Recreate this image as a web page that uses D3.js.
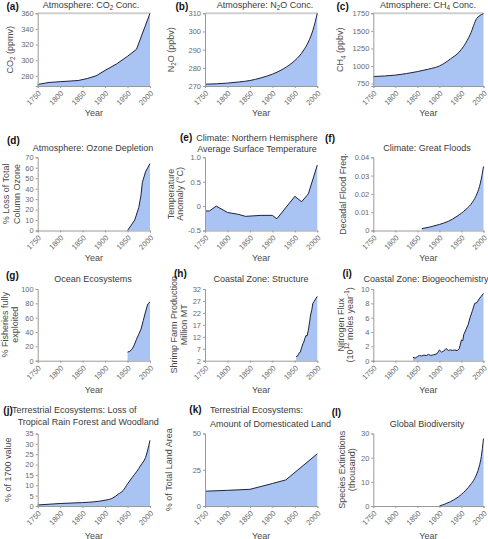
<!DOCTYPE html>
<html><head><meta charset="utf-8">
<script src="https://cdn.jsdelivr.net/npm/d3@7"></script>
<style>
html,body{margin:0;padding:0;background:#fff;}
svg text{font-family:"Liberation Sans",Arial,Helvetica,sans-serif;}
</style></head>
<body>
<svg id="chart" width="488" height="539"></svg>
<script>
// ---------- DATA ----------
const xTickYears = [1750, 1800, 1850, 1900, 1950, 2000];

const co2Years = [1750, 1775, 1800, 1840, 1860, 1880, 1900, 1925, 1950, 1970, 2000];
const co2Values = [269, 271.5, 272.5, 274, 276.5, 280, 287, 295, 305, 314, 360];
const co2Ticks = [280, 300, 320, 340, 360];

const n2oYears = [1750, 1775, 1800, 1825, 1850, 1875, 1900, 1925, 1950, 1960, 1970, 1980, 1990, 2000];
const n2oValues = [271, 271.2, 271.6, 272.2, 273, 274.5, 276.5, 279.5, 284, 286.5, 289.8, 294.2, 300.5, 310];
const n2oTicks = [270, 280, 290, 300, 310];

const ch4Years = [1750, 1800, 1850, 1875, 1900, 1925, 1945, 1955, 1970, 1985, 1990, 2000];
const ch4Values = [850, 870, 920, 955, 1000, 1100, 1200, 1280, 1450, 1680, 1710, 1745];
const ch4Ticks = [750, 1000, 1250, 1500, 1750];

const ozoneYears = [1950, 1966, 1975, 1980, 1983, 1990, 2000];
const ozoneValues = [0, 10, 22, 34, 46, 56, 64];
const ozoneTicks = [0, 10, 20, 30, 40, 50, 60, 70];

const tempYears = [1750, 1760, 1775, 1800, 1825, 1840, 1875, 1900, 1910, 1950, 1965, 1980, 2000];
const tempValues = [-0.10, -0.10, 0.0, -0.13, -0.17, -0.21, -0.19, -0.19, -0.26, 0.20, 0.09, 0.25, 0.84];
const tempTicks = [-0.5, 0, 0.5, 1.0];
const tempTickLabels = ["-0.5", "0", "0.5", "1.0"];

const floodYears = [1860, 1880, 1900, 1920, 1940, 1960, 1975, 1985, 1993, 2000];
const floodValues = [0.001, 0.002, 0.0033, 0.005, 0.0078, 0.0115, 0.0155, 0.02, 0.026, 0.035];
const floodTicks = [0, 0.01, 0.02, 0.03, 0.04];
const floodTickLabels = ["0", "0.01", "0.02", "0.03", "0.04"];

const fishYears = [1950, 1955, 1960, 1965, 1970, 1975, 1980, 1985, 1990, 1995, 2000];
const fishValues = [12, 13, 16, 22, 30, 37, 44, 56, 68, 79, 82];
const fishTicks = [0, 20, 40, 60, 80, 100];

const shrimpYears = [1953, 1955, 1958, 1960, 1962, 1965, 1968, 1970, 1972, 1975, 1977, 1980, 1983, 1985, 1988, 1990, 1993, 1996, 2000];
const shrimpValues = [3.7, 3.7, 4.6, 5.4, 5.5, 7.4, 9.1, 9.8, 11.2, 12.6, 12.3, 14.7, 18.3, 21.1, 23.5, 26, 26.8, 27.8, 28.9];
const shrimpTicks = [2, 7, 12, 17, 22, 27, 32];

const nitroYears = [1840, 1845, 1850, 1855, 1860, 1865, 1870, 1875, 1880, 1885, 1890, 1895, 1900, 1905, 1910, 1915, 1920, 1925, 1930, 1935, 1940, 1945, 1950, 1953, 1955, 1960, 1965, 1970, 1975, 1980, 1985, 1990, 1995, 2000];
const nitroValues = [0.47, 0.37, 0.56, 0.74, 0.65, 0.79, 0.70, 0.88, 0.74, 0.79, 0.88, 1.0, 1.5, 1.2, 1.35, 1.7, 1.44, 1.5, 1.44, 1.5, 1.4, 1.67, 2.9, 2.8, 3.6, 4.3, 5.0, 6.1, 7.0, 8.0, 8.1, 8.6, 9.0, 9.4];
const nitroTicks = [0, 2, 4, 6, 8, 10];

const forestYears = [1750, 1800, 1850, 1875, 1900, 1915, 1930, 1940, 1950, 1960, 1970, 1980, 1990, 2000];
const forestValues = [0.5, 1.2, 1.65, 2.0, 2.8, 3.6, 5.8, 7.4, 10.7, 13.7, 16.5, 19.8, 23.4, 31.7];
const forestTicks = [0, 5, 10, 15, 20, 25, 30, 35];

const landYears = [1750, 1800, 1850, 1900, 1930, 2000];
const landValues = [10.2, 10.8, 11.5, 15.5, 18, 36];
const landTicks = [0, 25, 50];

const speciesYears = [1900, 1925, 1950, 1970, 1980, 1990, 1995, 2000];
const speciesValues = [0, 1.8, 4.8, 8.7, 11.4, 16.2, 20.4, 27.9];
const speciesTicks = [0, 10, 20, 30];

// ---------- LAYOUT / STYLE ----------
const colLeft = [37.7, 205, 373.3];
const colRight = [150, 317.3, 483.5];
const rowTop = [13.3, 157.3, 289, 433.5];
const rowBot = [86, 230.5, 360.7, 506];
const fillColor = "#a9c4f3";
const lineColor = "#1c2140";
const axisColor = "#9a9a9a";
const tickTextColor = "#6a6a6a";
const labelColor = "#4a4a4a";

const svg = d3.select("#chart");

// helper: write text made of segments [text, "sub"|"sup"|undefined]
function segText(sel, segs, size) {
  segs.forEach(s => {
    const t = sel.append("tspan").text(s[0]);
    if (s[1] === "sub") { t.attr("font-size", size * 0.7).attr("dy", size * 0.25); }
    else if (s[1] === "sup") { t.attr("font-size", size * 0.7).attr("dy", -size * 0.4); }
    else if (s[1] === "reset-sub") { t.attr("dy", -size * 0.25); }
    else if (s[1] === "reset-sup") { t.attr("dy", size * 0.4); }
  });
}

const panels = [
  {id:"(a)", col:0,row:0, years:co2Years, vals:co2Values, dom:[267,360], ticks:co2Ticks, topBar:true, linear:true,
   letter:[6.5,9.5], titles:[{segs:[["Atmosphere: CO"],["2","sub"],[" Conc.","reset-sub"]], x:91, y:8, anchor:"middle"}],
   ylab:[{segs:[["CO"],["2","sub"],[" (ppmv)","reset-sub"]], x:9.7}]},
  {id:"(b)", col:1,row:0, years:n2oYears, vals:n2oValues, dom:[270,310], ticks:n2oTicks, topBar:true,
   letter:[175.5,9.5], titles:[{segs:[["Atmosphere: N"],["2","sub"],["O Conc.","reset-sub"]], x:265, y:8, anchor:"middle"}],
   ylab:[{segs:[["N"],["2","sub"],["O (ppbv)","reset-sub"]], x:170.7}]},
  {id:"(c)", col:2,row:0, years:ch4Years, vals:ch4Values, dom:[715,1750], ticks:ch4Ticks, topBar:true,
   letter:[336.5,9.5], titles:[{segs:[["Atmosphere: CH"],["4","sub"],[" Conc.","reset-sub"]], x:428, y:8, anchor:"middle"}],
   ylab:[{segs:[["CH"],["4","sub"],[" (ppbv)","reset-sub"]], x:340.3}]},
  {id:"(d)", col:0,row:1, years:ozoneYears, vals:ozoneValues, dom:[0,70], ticks:ozoneTicks, linear:true,
   letter:[7,144], titles:[{segs:[["Atmosphere: Ozone Depletion"]], x:93, y:151, anchor:"middle"}],
   ylab:[{segs:[["% Loss of Total"]], x:6},{segs:[["Column Ozone"]], x:16.7}]},
  {id:"(e)", col:1,row:1, years:tempYears, vals:tempValues, dom:[-0.5,1.0], ticks:tempTicks, tickLabels:tempTickLabels, linear:true,
   letter:[180,141], titles:[{segs:[["Climate: Northern Hemisphere"]], x:257, y:140.5, anchor:"middle"},
                            {segs:[["Average Surface Temperature"]], x:257, y:151.5, anchor:"middle"}],
   ylab:[{segs:[["Temperature"]], x:170.7},{segs:[["Anomaly (°C)"]], x:180.3}]},
  {id:"(f)", col:2,row:1, years:floodYears, vals:floodValues, dom:[0,0.04], ticks:floodTicks, tickLabels:floodTickLabels,
   letter:[325,142], titles:[{segs:[["Climate: Great Floods"]], x:427, y:151, anchor:"middle"}],
   ylab:[{segs:[["Decadal Flood Freq."]], x:342.7}]},
  {id:"(g)", col:0,row:2, years:fishYears, vals:fishValues, dom:[0,100], ticks:fishTicks, linear:true,
   letter:[6,279], titles:[{segs:[["Ocean Ecosystems"]], x:93, y:282, anchor:"middle"}],
   ylab:[{segs:[["% Fisheries fully"]], x:5},{segs:[["exploited"]], x:15}]},
  {id:"(h)", col:1,row:2, years:shrimpYears, vals:shrimpValues, dom:[2,32], ticks:shrimpTicks, linear:true,
   letter:[174,277], titles:[{segs:[["Coastal Zone: Structure"]], x:261, y:282, anchor:"middle"}],
   ylab:[{segs:[["Shrimp Farm Production"]], x:174.3},{segs:[["Million MT"]], x:184}]},
  {id:"(i)", col:2,row:2, years:nitroYears, vals:nitroValues, dom:[0,10], ticks:nitroTicks, linear:true,
   letter:[342.5,277], titles:[{segs:[["Coastal Zone: Biogeochemistry"]], x:426, y:282, anchor:"middle"}],
   ylab:[{segs:[["Nitrogen Flux"]], x:340.7},{segs:[["(10"],["12","sup"],[" moles year","reset-sup"],["-1","sup"],[")","reset-sup"]], x:349.7}]},
  {id:"(j)", col:0,row:3, years:forestYears, vals:forestValues, dom:[0,35], ticks:forestTicks,
   letter:[3.3,414], titles:[{segs:[["Terrestrial Ecosystems: Loss of"]], x:12, y:413.3, anchor:"start"},
                            {segs:[["Tropical Rain Forest and Woodland"]], x:17.7, y:424.5, anchor:"start"}],
   ylab:[{segs:[["% of 1700 value"]], x:8.3}]},
  {id:"(k)", col:1,row:3, years:landYears, vals:landValues, dom:[0,50], ticks:landTicks, linear:true,
   letter:[189.3,413], titles:[{segs:[["Terrestrial Ecosystems:"]], x:210, y:412.5, anchor:"start"},
                            {segs:[["Amount of Domesticated Land"]], x:210, y:426.5, anchor:"start"}],
   ylab:[{segs:[["% of Total Land Area"]], x:169.3}]},
  {id:"(l)", col:2,row:3, years:speciesYears, vals:speciesValues, dom:[0,30], ticks:speciesTicks,
   letter:[331.7,416], titles:[{segs:[["Global Biodiversity"]], x:427, y:426.5, anchor:"middle"}],
   ylab:[{segs:[["Species Extinctions"]], x:341.7},{segs:[["(thousand)"]], x:351.7}]}
];

const titleSize = 9;
panels.forEach(p => {
  const left = colLeft[p.col], right = colRight[p.col];
  const top = rowTop[p.row], bot = rowBot[p.row];
  const x = d3.scaleLinear().domain([1750, 2000]).range([left, right]);
  const y = d3.scaleLinear().domain(p.dom).range([bot, top]);
  const data = p.years.map((yr, i) => [yr, p.vals[i]]);
  const curve = p.linear ? d3.curveLinear : d3.curveMonotoneX;

  const g = svg.append("g");

  if (p.topBar) {
    g.append("line").attr("x1", left).attr("x2", right).attr("y1", top).attr("y2", top)
      .attr("stroke", "#cfcfcf").attr("stroke-width", 2);
  }

  // area + line
  g.append("path").datum(data)
    .attr("d", d3.area().x(d => x(d[0])).y0(bot).y1(d => y(d[1])).curve(curve))
    .attr("fill", fillColor);
  g.append("path").datum(data)
    .attr("d", d3.line().x(d => x(d[0])).y(d => y(d[1])).curve(curve))
    .attr("fill", "none").attr("stroke", lineColor).attr("stroke-width", 1);

  // y axis
  const ya = d3.axisLeft(y).tickValues(p.ticks).tickSize(2).tickPadding(2)
    .tickFormat((d, i) => p.tickLabels ? p.tickLabels[i] : d3.format("d")(d));
  const yg = g.append("g").attr("transform", `translate(${left},0)`).call(ya);
  // x axis
  const xa = d3.axisBottom(x).tickValues(xTickYears).tickSize(2).tickFormat(d3.format("d"));
  const xg = g.append("g").attr("transform", `translate(0,${bot})`).call(xa);
  xg.selectAll(".tick text")
    .attr("text-anchor", "end").attr("y", 0).attr("x", 0).attr("dy", "0.35em")
    .attr("transform", "translate(1.5,6) rotate(-45)");
  [yg, xg].forEach(a => {
    a.select(".domain").attr("stroke", axisColor).attr("stroke-width", 1);
    a.selectAll(".tick line").attr("stroke", axisColor);
    a.selectAll(".tick text").attr("fill", tickTextColor).attr("font-size", 7.5)
      .attr("font-family", "'Liberation Sans',Arial,sans-serif");
  });

  // x label
  const yearY = [116, 261, 393, 538.5][p.row];
  g.append("text").attr("x", (left + right) / 2).attr("y", yearY)
    .attr("text-anchor", "middle").attr("font-size", 9).attr("fill", labelColor).text("Year");

  // y labels
  const cy = (top + bot) / 2;
  p.ylab.forEach(l => {
    const t = g.append("text").attr("transform", `translate(${l.x},${cy}) rotate(-90)`)
      .attr("text-anchor", "middle").attr("dy", "0.35em")
      .attr("font-size", titleSize).attr("fill", labelColor);
    segText(t, l.segs, titleSize);
  });

  // titles
  p.titles.forEach(tt => {
    const t = g.append("text").attr("x", tt.x).attr("y", tt.y)
      .attr("text-anchor", tt.anchor).attr("font-size", titleSize).attr("fill", "#3a3a3a");
    segText(t, tt.segs, titleSize);
  });

  // panel letter
  g.append("text").attr("x", p.letter[0]).attr("y", p.letter[1])
    .attr("font-size", 10).attr("font-weight", "bold").attr("fill", "#111").text(p.id);
});
</script>
</body></html>
